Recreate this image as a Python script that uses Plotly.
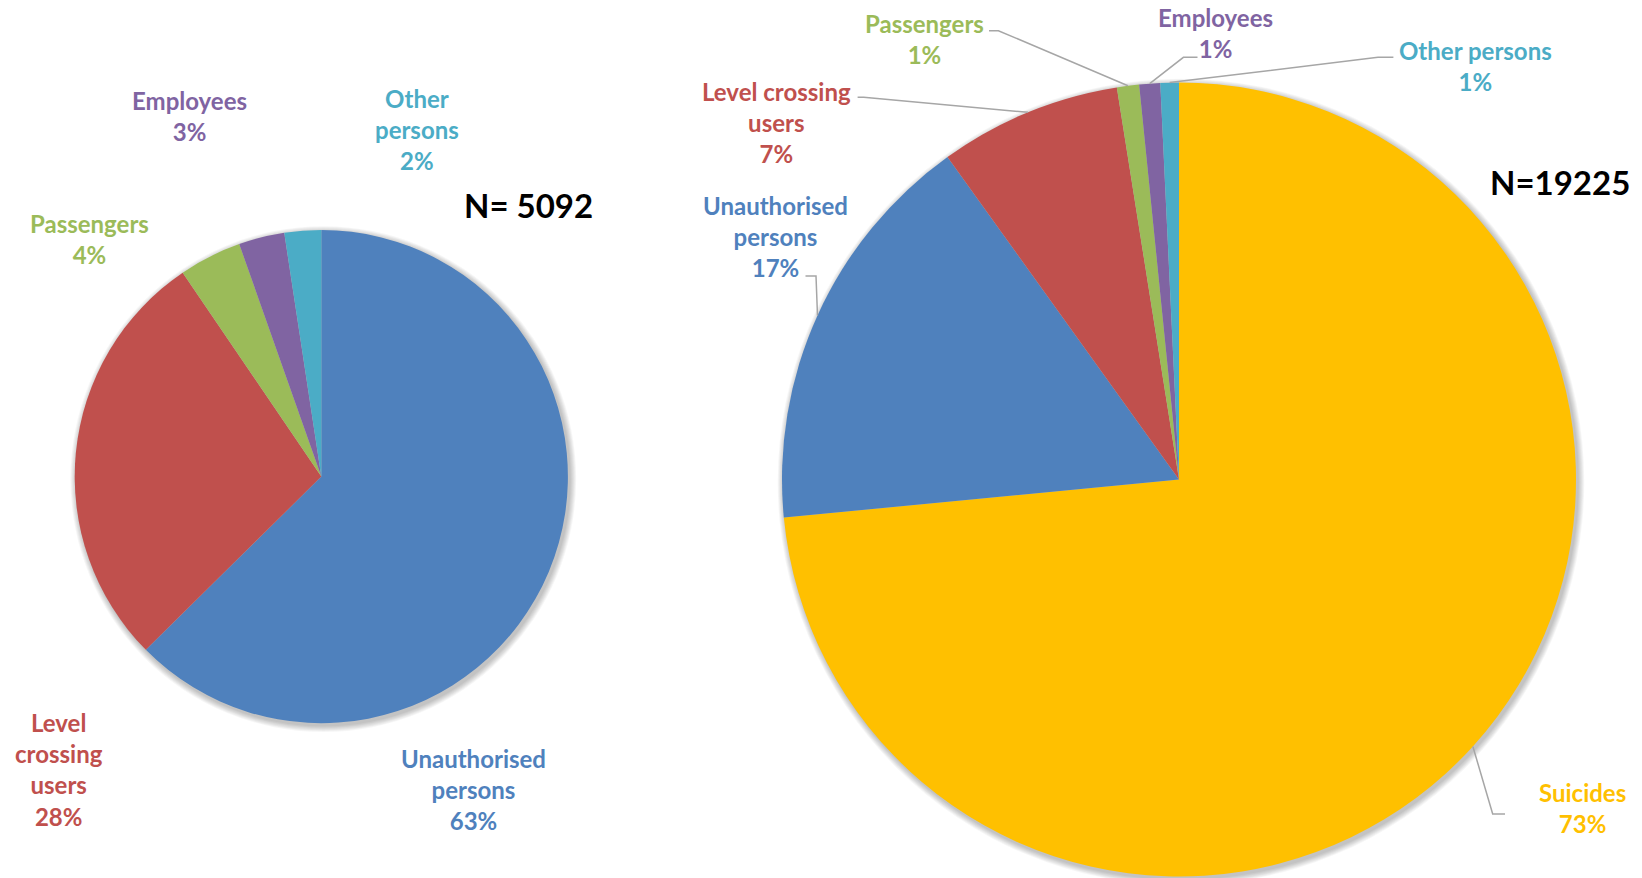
import math
import plotly.graph_objects as go

W, H = 1642, 878

# ---------------- data ----------------
left_categories = ["Unauthorised persons", "Level crossing users", "Passengers", "Employees", "Other persons"]
left_values = [62.6, 27.9, 4.1, 3.0, 2.4]
left_total = "N= 5092"

right_categories = ["Suicides", "Unauthorised persons", "Level crossing users", "Passengers", "Employees", "Other persons"]
right_values = [73.4, 16.6, 7.4, 0.9, 0.85, 0.75]
right_total = "N=19225"

colors = {
    "Unauthorised persons": "#4F81BD",
    "Level crossing users": "#C0504D",
    "Passengers": "#9BBB59",
    "Employees": "#8064A2",
    "Other persons": "#4BACC6",
    "Suicides": "#FFC000",
}

# label wrapping (display only)
left_wrap = {
    "Unauthorised persons": ["Unauthorised", "persons"],
    "Level crossing users": ["Level", "crossing", "users"],
    "Passengers": ["Passengers"],
    "Employees": ["Employees"],
    "Other persons": ["Other", "persons"],
}
right_wrap = {
    "Suicides": ["Suicides"],
    "Unauthorised persons": ["Unauthorised", "persons"],
    "Level crossing users": ["Level crossing", "users"],
    "Passengers": ["Passengers"],
    "Employees": ["Employees"],
    "Other persons": ["Other persons"],
}

# ---------------- layout geometry (pixels) ----------------
L_CX, L_CY, L_R = 321.3, 476.6, 246.6
R_CX, R_CY, R_R = 1179.0, 479.5, 397.0

left_label_pos = {
    "Employees": (189.5, 115.8),
    "Other persons": (416.8, 129.9),
    "Passengers": (89.0, 239.3),
    "Level crossing users": (58.6, 769.8),
    "Unauthorised persons": (473.3, 789.6),
}
right_label_pos = {
    "Passengers": (924.7, 39.3),
    "Employees": (1215.8, 33.0),
    "Other persons": (1475.5, 66.0),
    "Level crossing users": (776.0, 122.5),
    "Unauthorised persons": (775.0, 236.7),
    "Suicides": (1582.3, 807.9),
}
# leader line knee points (pixels), final point is computed on slice edge
right_leaders = {
    "Passengers": [(989.0, 30.7), (998.4, 30.7)],
    "Employees": [(1197.5, 57.3), (1183.4, 57.3)],
    "Other persons": [(1393.4, 57.3), (1378.0, 57.3)],
    "Level crossing users": [(857.6, 97.3), (863.7, 97.3)],
    "Unauthorised persons": [(805.5, 276.0), (816.0, 276.0)],
    "Suicides": [(1505.0, 814.0), (1492.7, 814.0)],
}

FONT = "Lato"


def px(x):
    return x / W


def py(y):
    return 1 - y / H


def domain(cx, cy, r):
    return dict(x=[px(cx - r), px(cx + r)], y=[py(cy + r), py(cy - r)])


def mid_points(values, cx, cy, r):
    tot = sum(values)
    cum = 0.0
    pts = []
    for v in values:
        frac = (cum + v / 2) / tot
        th = 2 * math.pi * frac
        pts.append((cx + r * math.sin(th), cy - r * math.cos(th)))
        cum += v
    return pts


def pct(values):
    tot = sum(values)
    return [f"{round(v / tot * 100)}%" for v in values]


fig = go.Figure()

fig.add_trace(go.Pie(
    labels=left_categories, values=left_values, sort=False, direction="clockwise",
    rotation=0, textinfo="none", hoverinfo="label+percent",
    marker=dict(colors=[colors[c] for c in left_categories], line=dict(width=0)),
    domain=domain(L_CX, L_CY, L_R), showlegend=False,
))
fig.add_trace(go.Pie(
    labels=right_categories, values=right_values, sort=False, direction="clockwise",
    rotation=0, textinfo="none", hoverinfo="label+percent",
    marker=dict(colors=[colors[c] for c in right_categories], line=dict(width=0)),
    domain=domain(R_CX, R_CY, R_R), showlegend=False,
))

shapes = []
# soft shadow behind pies
for cx, cy, r in [(L_CX, L_CY, L_R), (R_CX, R_CY, R_R)]:
    for k in range(1, 8):
        rr = r + k * 0.9
        ox, oy = 2.0, 2.5
        shapes.append(dict(
            type="circle", xref="paper", yref="paper", layer="below",
            x0=px(cx + ox - rr), x1=px(cx + ox + rr), y0=py(cy + oy + rr), y1=py(cy + oy - rr),
            fillcolor="rgba(0,0,0,0.035)", line=dict(width=0),
        ))

annotations = []


def add_label(lines, x, y, color, size=24):
    annotations.append(dict(
        text="<br>".join(lines), x=px(x), y=py(y), xref="paper", yref="paper",
        xanchor="center", yanchor="middle", showarrow=False, align="center",
        font=dict(family=FONT, size=size, color=color, weight="bold"),
    ))


for c, p in zip(left_categories, pct(left_values)):
    x, y = left_label_pos[c]
    add_label(left_wrap[c] + [p], x, y, colors[c])

for c, p in zip(right_categories, pct(right_values)):
    x, y = right_label_pos[c]
    add_label(right_wrap[c] + [p], x, y, colors[c])

annotations.append(dict(
    text=left_total, x=px(528.8), y=py(205), xref="paper", yref="paper",
    xanchor="center", yanchor="middle", showarrow=False,
    font=dict(family=FONT, size=33, color="black", weight="bold"),
))
annotations.append(dict(
    text=right_total, x=px(1632), y=py(182.2), xref="paper", yref="paper",
    xanchor="right", yanchor="middle", showarrow=False,
    font=dict(family=FONT, size=33, color="black", weight="bold"),
))

# leader lines for right pie
mids = mid_points(right_values, R_CX, R_CY, R_R)
for c, m in zip(right_categories, mids):
    pts = right_leaders[c] + [m]
    path = "M " + " L ".join(f"{px(x)},{py(y)}" for x, y in pts)
    shapes.append(dict(type="path", xref="paper", yref="paper", path=path,
                       line=dict(color="#A6A6A6", width=1.5)))

fig.update_layout(
    width=W, height=H, margin=dict(l=0, r=0, t=0, b=0),
    paper_bgcolor="white", plot_bgcolor="white",
    shapes=shapes, annotations=annotations,
)

fig.write_html(
    "out.html",
    config={"displayModeBar": False},
    post_script="document.body.style.margin='0';document.body.style.overflow='hidden';",
)
